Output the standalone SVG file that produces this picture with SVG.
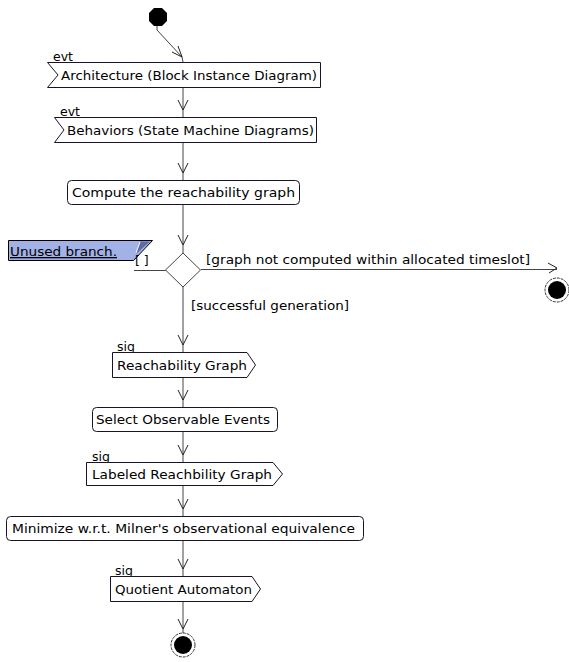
<svg xmlns="http://www.w3.org/2000/svg" width="569" height="662" viewBox="0 0 569 662">
<style>
text{font-family:"DejaVu Sans","Liberation Sans",sans-serif;font-size:13px;fill:#000}
.lbl{font-size:12.5px}
.box{fill:#fff;stroke:#1a1226;stroke-width:1}
.ln{fill:none;stroke:#444;stroke-width:1}
.ah{fill:none;stroke:#222;stroke-width:1}
</style>
<rect width="569" height="662" fill="#fff"/>
<g id="connectors">
  <path class="ln" d="M157 26 L157 30 L182 57 L183 62"/>
  <path class="ah" d="M172 52 L182 57 L178 46"/>
  <path class="ln" d="M183 87 V117"/>
  <path class="ah" d="M178 100 L183 110 L188 100"/>
  <path class="ln" d="M183 142 V180"/>
  <path class="ah" d="M178 163 L183 173 L188 163"/>
  <path class="ln" d="M183 204 V253"/>
  <path class="ah" d="M178 235 L183 245 L188 235"/>
  <path class="ln" d="M166 270.5 H134"/>
  <path class="ln" d="M201 269.5 H557"/>
  <path class="ah" d="M548 263 L557 268 L549 273"/>
  <path class="ln" d="M183 287 V352"/>
  <path class="ah" d="M178 335 L183 345 L188 335"/>
  <path class="ln" d="M183 377 V407"/>
  <path class="ah" d="M178 390 L183 400 L188 390"/>
  <path class="ln" d="M183 431 V462"/>
  <path class="ah" d="M178 445 L183 455 L188 445"/>
  <path class="ln" d="M183 485 V516"/>
  <path class="ah" d="M178 499 L183 509 L188 499"/>
  <path class="ln" d="M183 540 V576"/>
  <path class="ah" d="M178 559 L183 569 L188 559"/>
  <path class="ln" d="M183 602 V633"/>
  <path class="ah" d="M178 619 L183 629 L188 619"/>
</g>
<g id="start">
  <polygon points="154,8 162,8 167,13 167,21 162,26 154,26 149,21 149,13" fill="#000"/>
</g>
<g id="architecture">
  <text x="53" y="61" class="lbl">evt</text>
  <polygon class="box" points="47.5,62.5 320.5,62.5 320.5,87.5 47.5,87.5 58,75"/>
  <text x="61" y="80" textLength="256" lengthAdjust="spacingAndGlyphs">Architecture (Block Instance Diagram)</text>
</g>
<g id="behaviors">
  <text x="60" y="116" class="lbl">evt</text>
  <polygon class="box" points="54.5,117.5 316.5,117.5 316.5,142.5 54.5,142.5 64,130"/>
  <text x="67" y="135" textLength="247" lengthAdjust="spacingAndGlyphs">Behaviors (State Machine Diagrams)</text>
</g>
<g id="compute">
  <rect class="box" x="67.5" y="180.5" width="232" height="24" rx="4"/>
  <text x="72" y="197" textLength="223" lengthAdjust="spacingAndGlyphs">Compute the reachability graph</text>
</g>
<g id="note">
  <polygon points="8.5,240.5 152.5,240.5 133.5,260.5 8.5,260.5" fill="#a2b1e6" stroke="#000"/>
  <polygon points="140,241.5 150,241.5 136,254" fill="#5c6aa6"/>
  <path d="M140 242 L136 253" stroke="#fff" stroke-width="1"/>
  <text x="10" y="256" textLength="107" lengthAdjust="spacingAndGlyphs" text-decoration="underline" fill="#101040">Unused branch.</text>
</g>
<g id="decision">
  <polygon points="183,253 200.5,270 183,287 165.5,270" fill="#fff" stroke="#444"/>
  <text x="135" y="265" class="lbl">[ ]</text>
  <text x="206" y="264" textLength="324" lengthAdjust="spacingAndGlyphs">[graph not computed within allocated timeslot]</text>
  <text x="191" y="310" textLength="158" lengthAdjust="spacingAndGlyphs">[successful generation]</text>
</g>
<g id="final1">
  <circle cx="557" cy="290" r="12" fill="#fff" stroke="#333" stroke-dasharray="3 1"/>
  <circle cx="557" cy="290" r="9" fill="#000"/>
</g>
<g id="reachability">
  <text x="117" y="351" class="lbl">sig</text>
  <polygon class="box" points="112.5,352.5 247,352.5 255.5,365 247,377.5 112.5,377.5"/>
  <text x="117" y="370" textLength="130" lengthAdjust="spacingAndGlyphs">Reachability Graph</text>
</g>
<g id="select">
  <rect class="box" x="92.5" y="407.5" width="185" height="24" rx="4"/>
  <text x="96" y="424" textLength="174" lengthAdjust="spacingAndGlyphs">Select Observable Events</text>
</g>
<g id="labeled">
  <text x="92" y="461" class="lbl">sig</text>
  <polygon class="box" points="86.5,462.5 273,462.5 282.5,474 273,485.5 86.5,485.5"/>
  <text x="92" y="479" textLength="180" lengthAdjust="spacingAndGlyphs">Labeled Reachbility Graph</text>
</g>
<g id="minimize">
  <rect class="box" x="6.5" y="516.5" width="357" height="24" rx="4"/>
  <text x="12" y="533" textLength="343" lengthAdjust="spacingAndGlyphs">Minimize w.r.t. Milner's observational equivalence</text>
</g>
<g id="quotient">
  <text x="115" y="575" class="lbl">sig</text>
  <polygon class="box" points="110.5,576.5 252,576.5 260.5,589 252,601.5 110.5,601.5"/>
  <text x="115" y="594" textLength="137" lengthAdjust="spacingAndGlyphs">Quotient Automaton</text>
</g>
<g id="final2">
  <circle cx="183" cy="645" r="12" fill="#fff" stroke="#333" stroke-dasharray="3 1"/>
  <circle cx="183" cy="645" r="9" fill="#000"/>
</g>
</svg>
